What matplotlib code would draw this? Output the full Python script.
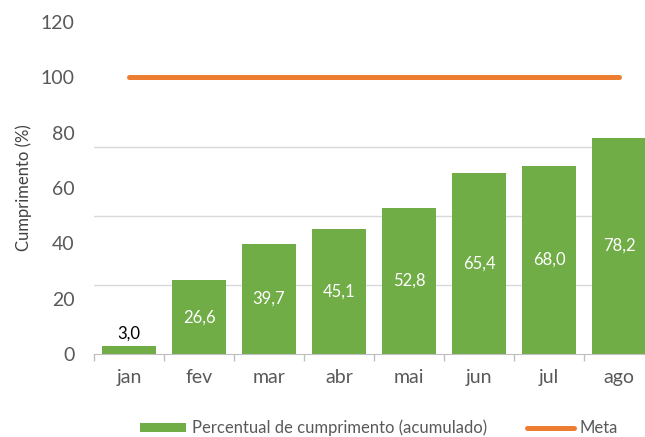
import matplotlib.pyplot as plt
import numpy as np

# data
meses = ["jan", "fev", "mar", "abr", "mai", "jun", "jul", "ago"]
percentual = [3.0, 26.6, 39.7, 45.1, 52.8, 65.4, 68.0, 78.2]
meta = [100, 100, 100, 100, 100, 100, 100, 100]

plt.rcParams["font.family"] = ["Lato", "DejaVu Sans"]

fig = plt.figure(figsize=(6.45, 4.37), dpi=100)
# plot area runs off the right edge, as in the reference
ax = fig.add_axes([94 / 645, 1 - 354 / 437, (654 - 94) / 645, (354 - 22) / 437])

x = np.arange(len(meses))
bars = ax.bar(x, percentual, width=0.77, color="#70AD47", zorder=2,
              label="Percentual de cumprimento (acumulado)")
line, = ax.plot(x, meta, color="#ED7D31", lw=3.6, solid_capstyle="round", zorder=3, label="Meta")

# data labels
for xi, v in zip(x, percentual):
    txt = f"{v:.1f}".replace(".", ",")
    if v < 10:
        ax.text(xi, v + 1.5, txt, ha="center", va="bottom", fontsize=12, color="black")
    else:
        ax.text(xi, v / 2, txt, ha="center", va="center", fontsize=12, color="white")

ax.set_xlim(-0.5, len(meses) - 0.5)
ax.set_ylim(0, 120)
ax.set_yticks(np.arange(0, 121, 20))
ax.set_yticks([25, 50, 75, 100], minor=True)
ax.grid(True, axis="y", which="minor", color="#d9d9d9", lw=1, zorder=0)
ax.tick_params(axis="y", which="both", length=0, labelsize=14, labelcolor="#595959", pad=14)

ax.set_xticks(x)
ax.set_xticklabels(meses)
ax.set_xticks(np.arange(-0.5, len(meses), 1), minor=True)
ax.tick_params(axis="x", which="major", length=0, labelsize=14, labelcolor="#595959", pad=11)
ax.tick_params(axis="x", which="minor", length=5, color="#bfbfbf", width=1)

for s in ["top", "right", "left"]:
    ax.spines[s].set_visible(False)
ax.spines["bottom"].set_color("#bfbfbf")

ax.set_ylabel("Cumprimento (%)", fontsize=12, color="#404040", labelpad=6)

fig.legend(handles=[bars, line], loc="center", bbox_to_anchor=(379 / 645, 1 - 428 / 437),
           ncol=2, frameon=False, fontsize=12, labelcolor="#595959",
           handlelength=2.8, handleheight=0.45, handletextpad=0.35, columnspacing=2.4)

fig.savefig("out.png", dpi=100)
